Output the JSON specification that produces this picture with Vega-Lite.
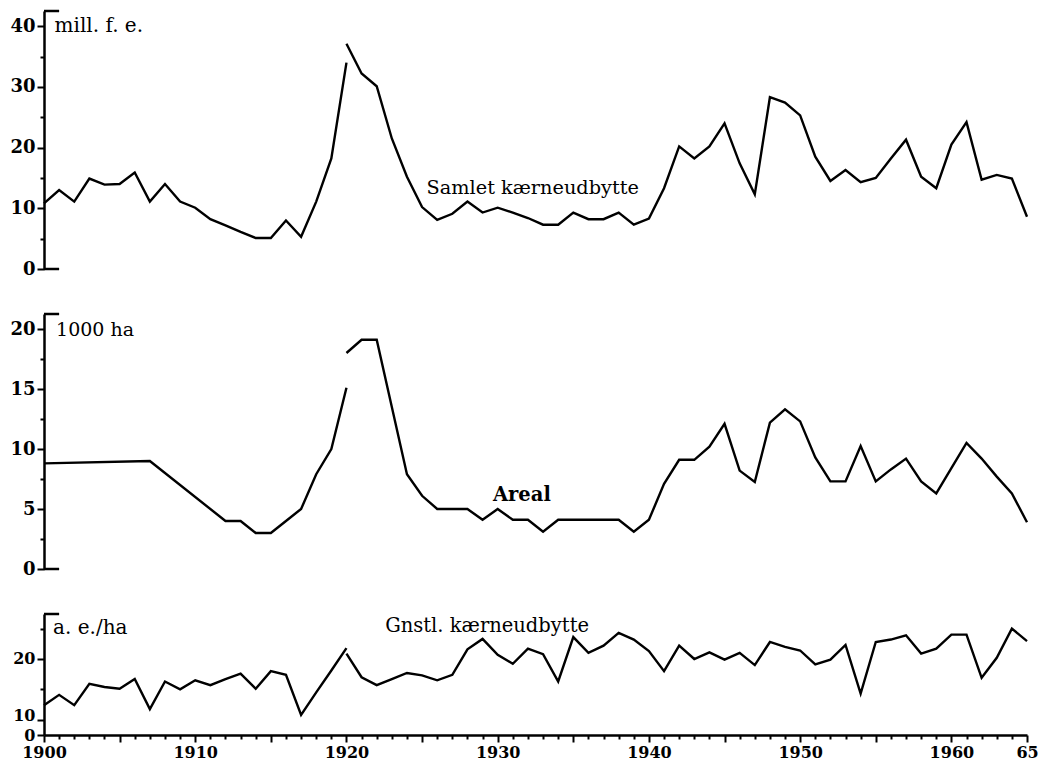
{
  "$schema": "https://vega.github.io/schema/vega-lite/v6.json",
  "background": "white",
  "padding": {"left": 5, "top": 9, "right": 5, "bottom": 5},
  "spacing": 45,
  "bounds": "flush",
  "datasets": {
    "samlet": [
      {"year": 1900, "value": 10.8, "seg": "a"}, {"year": 1901, "value": 13.0, "seg": "a"}, {"year": 1902, "value": 11.1, "seg": "a"},
      {"year": 1903, "value": 14.9, "seg": "a"}, {"year": 1904, "value": 13.9, "seg": "a"}, {"year": 1905, "value": 14.0, "seg": "a"},
      {"year": 1906, "value": 15.9, "seg": "a"}, {"year": 1907, "value": 11.1, "seg": "a"}, {"year": 1908, "value": 14.0, "seg": "a"},
      {"year": 1909, "value": 11.1, "seg": "a"}, {"year": 1910, "value": 10.1, "seg": "a"}, {"year": 1911, "value": 8.2, "seg": "a"},
      {"year": 1912, "value": 7.2, "seg": "a"}, {"year": 1913, "value": 6.1, "seg": "a"}, {"year": 1914, "value": 5.1, "seg": "a"},
      {"year": 1915, "value": 5.1, "seg": "a"}, {"year": 1916, "value": 8.0, "seg": "a"}, {"year": 1917, "value": 5.3, "seg": "a"},
      {"year": 1918, "value": 11.1, "seg": "a"}, {"year": 1919, "value": 18.2, "seg": "a"}, {"year": 1920, "value": 34.0, "seg": "a"},
      {"year": 1920, "value": 37.1, "seg": "b"}, {"year": 1921, "value": 32.2, "seg": "b"}, {"year": 1922, "value": 30.1, "seg": "b"},
      {"year": 1923, "value": 21.5, "seg": "b"}, {"year": 1924, "value": 15.2, "seg": "b"}, {"year": 1925, "value": 10.2, "seg": "b"},
      {"year": 1926, "value": 8.1, "seg": "b"}, {"year": 1927, "value": 9.1, "seg": "b"}, {"year": 1928, "value": 11.1, "seg": "b"},
      {"year": 1929, "value": 9.3, "seg": "b"}, {"year": 1930, "value": 10.1, "seg": "b"}, {"year": 1931, "value": 9.3, "seg": "b"},
      {"year": 1932, "value": 8.4, "seg": "b"}, {"year": 1933, "value": 7.3, "seg": "b"}, {"year": 1934, "value": 7.3, "seg": "b"},
      {"year": 1935, "value": 9.3, "seg": "b"}, {"year": 1936, "value": 8.2, "seg": "b"}, {"year": 1937, "value": 8.2, "seg": "b"},
      {"year": 1938, "value": 9.3, "seg": "b"}, {"year": 1939, "value": 7.3, "seg": "b"}, {"year": 1940, "value": 8.3, "seg": "b"},
      {"year": 1941, "value": 13.3, "seg": "b"}, {"year": 1942, "value": 20.2, "seg": "b"}, {"year": 1943, "value": 18.2, "seg": "b"},
      {"year": 1944, "value": 20.2, "seg": "b"}, {"year": 1945, "value": 24.0, "seg": "b"}, {"year": 1946, "value": 17.4, "seg": "b"},
      {"year": 1947, "value": 12.3, "seg": "b"}, {"year": 1948, "value": 28.3, "seg": "b"}, {"year": 1949, "value": 27.4, "seg": "b"},
      {"year": 1950, "value": 25.3, "seg": "b"}, {"year": 1951, "value": 18.5, "seg": "b"}, {"year": 1952, "value": 14.5, "seg": "b"},
      {"year": 1953, "value": 16.3, "seg": "b"}, {"year": 1954, "value": 14.3, "seg": "b"}, {"year": 1955, "value": 15.0, "seg": "b"},
      {"year": 1956, "value": 18.2, "seg": "b"}, {"year": 1957, "value": 21.3, "seg": "b"}, {"year": 1958, "value": 15.2, "seg": "b"},
      {"year": 1959, "value": 13.3, "seg": "b"}, {"year": 1960, "value": 20.5, "seg": "b"}, {"year": 1961, "value": 24.2, "seg": "b"},
      {"year": 1962, "value": 14.7, "seg": "b"}, {"year": 1963, "value": 15.5, "seg": "b"}, {"year": 1964, "value": 14.9, "seg": "b"},
      {"year": 1965, "value": 8.6, "seg": "b"}
    ],
    "areal": [
      {"year": 1900, "value": 8.8, "seg": "a"}, {"year": 1907, "value": 9.0, "seg": "a"}, {"year": 1912, "value": 4.0, "seg": "a"},
      {"year": 1913, "value": 4.0, "seg": "a"}, {"year": 1914, "value": 3.0, "seg": "a"}, {"year": 1915, "value": 3.0, "seg": "a"},
      {"year": 1916, "value": 4.0, "seg": "a"}, {"year": 1917, "value": 5.0, "seg": "a"}, {"year": 1918, "value": 7.9, "seg": "a"},
      {"year": 1919, "value": 10.0, "seg": "a"}, {"year": 1920, "value": 15.1, "seg": "a"},
      {"year": 1920, "value": 18.0, "seg": "b"}, {"year": 1921, "value": 19.1, "seg": "b"}, {"year": 1922, "value": 19.1, "seg": "b"},
      {"year": 1923, "value": 13.5, "seg": "b"}, {"year": 1924, "value": 7.9, "seg": "b"}, {"year": 1925, "value": 6.1, "seg": "b"},
      {"year": 1926, "value": 5.0, "seg": "b"}, {"year": 1927, "value": 5.0, "seg": "b"}, {"year": 1928, "value": 5.0, "seg": "b"},
      {"year": 1929, "value": 4.1, "seg": "b"}, {"year": 1930, "value": 5.0, "seg": "b"}, {"year": 1931, "value": 4.1, "seg": "b"},
      {"year": 1932, "value": 4.1, "seg": "b"}, {"year": 1933, "value": 3.1, "seg": "b"}, {"year": 1934, "value": 4.1, "seg": "b"},
      {"year": 1935, "value": 4.1, "seg": "b"}, {"year": 1936, "value": 4.1, "seg": "b"}, {"year": 1937, "value": 4.1, "seg": "b"},
      {"year": 1938, "value": 4.1, "seg": "b"}, {"year": 1939, "value": 3.1, "seg": "b"}, {"year": 1940, "value": 4.1, "seg": "b"},
      {"year": 1941, "value": 7.1, "seg": "b"}, {"year": 1942, "value": 9.1, "seg": "b"}, {"year": 1943, "value": 9.1, "seg": "b"},
      {"year": 1944, "value": 10.2, "seg": "b"}, {"year": 1945, "value": 12.1, "seg": "b"}, {"year": 1946, "value": 8.2, "seg": "b"},
      {"year": 1947, "value": 7.25, "seg": "b"}, {"year": 1948, "value": 12.2, "seg": "b"}, {"year": 1949, "value": 13.3, "seg": "b"},
      {"year": 1950, "value": 12.3, "seg": "b"}, {"year": 1951, "value": 9.3, "seg": "b"}, {"year": 1952, "value": 7.3, "seg": "b"},
      {"year": 1953, "value": 7.3, "seg": "b"}, {"year": 1954, "value": 10.25, "seg": "b"}, {"year": 1955, "value": 7.3, "seg": "b"},
      {"year": 1956, "value": 8.3, "seg": "b"}, {"year": 1957, "value": 9.2, "seg": "b"}, {"year": 1958, "value": 7.3, "seg": "b"},
      {"year": 1959, "value": 6.3, "seg": "b"}, {"year": 1960, "value": 8.4, "seg": "b"}, {"year": 1961, "value": 10.5, "seg": "b"},
      {"year": 1962, "value": 9.2, "seg": "b"}, {"year": 1963, "value": 7.7, "seg": "b"}, {"year": 1964, "value": 6.3, "seg": "b"},
      {"year": 1965, "value": 3.9, "seg": "b"}
    ],
    "gnstl": [
      {"year": 1900, "value": 12.4, "seg": "a"}, {"year": 1901, "value": 14.1, "seg": "a"}, {"year": 1902, "value": 12.4, "seg": "a"},
      {"year": 1903, "value": 15.9, "seg": "a"}, {"year": 1904, "value": 15.4, "seg": "a"}, {"year": 1905, "value": 15.1, "seg": "a"},
      {"year": 1906, "value": 16.7, "seg": "a"}, {"year": 1907, "value": 11.75, "seg": "a"}, {"year": 1908, "value": 16.3, "seg": "a"},
      {"year": 1909, "value": 15.0, "seg": "a"}, {"year": 1910, "value": 16.5, "seg": "a"}, {"year": 1911, "value": 15.7, "seg": "a"},
      {"year": 1912, "value": 16.7, "seg": "a"}, {"year": 1913, "value": 17.6, "seg": "a"}, {"year": 1914, "value": 15.1, "seg": "a"},
      {"year": 1915, "value": 18.0, "seg": "a"}, {"year": 1916, "value": 17.4, "seg": "a"}, {"year": 1917, "value": 10.8, "seg": "a"},
      {"year": 1918, "value": 14.5, "seg": "a"}, {"year": 1919, "value": 18.1, "seg": "a"}, {"year": 1920, "value": 21.8, "seg": "a"},
      {"year": 1920, "value": 20.9, "seg": "b"}, {"year": 1921, "value": 17.0, "seg": "b"}, {"year": 1922, "value": 15.7, "seg": "b"},
      {"year": 1923, "value": 16.7, "seg": "b"}, {"year": 1924, "value": 17.7, "seg": "b"}, {"year": 1925, "value": 17.3, "seg": "b"},
      {"year": 1926, "value": 16.5, "seg": "b"}, {"year": 1927, "value": 17.4, "seg": "b"}, {"year": 1928, "value": 21.6, "seg": "b"},
      {"year": 1929, "value": 23.3, "seg": "b"}, {"year": 1930, "value": 20.7, "seg": "b"}, {"year": 1931, "value": 19.2, "seg": "b"},
      {"year": 1932, "value": 21.7, "seg": "b"}, {"year": 1933, "value": 20.8, "seg": "b"}, {"year": 1934, "value": 16.3, "seg": "b"},
      {"year": 1935, "value": 23.6, "seg": "b"}, {"year": 1936, "value": 21.0, "seg": "b"}, {"year": 1937, "value": 22.2, "seg": "b"},
      {"year": 1938, "value": 24.3, "seg": "b"}, {"year": 1939, "value": 23.2, "seg": "b"}, {"year": 1940, "value": 21.3, "seg": "b"},
      {"year": 1941, "value": 18.0, "seg": "b"}, {"year": 1942, "value": 22.2, "seg": "b"}, {"year": 1943, "value": 20.0, "seg": "b"},
      {"year": 1944, "value": 21.1, "seg": "b"}, {"year": 1945, "value": 19.9, "seg": "b"}, {"year": 1946, "value": 21.0, "seg": "b"},
      {"year": 1947, "value": 19.0, "seg": "b"}, {"year": 1948, "value": 22.8, "seg": "b"}, {"year": 1949, "value": 22.0, "seg": "b"},
      {"year": 1950, "value": 21.4, "seg": "b"}, {"year": 1951, "value": 19.1, "seg": "b"}, {"year": 1952, "value": 19.9, "seg": "b"},
      {"year": 1953, "value": 22.3, "seg": "b"}, {"year": 1954, "value": 14.3, "seg": "b"}, {"year": 1955, "value": 22.8, "seg": "b"},
      {"year": 1956, "value": 23.2, "seg": "b"}, {"year": 1957, "value": 23.9, "seg": "b"}, {"year": 1958, "value": 20.9, "seg": "b"},
      {"year": 1959, "value": 21.7, "seg": "b"}, {"year": 1960, "value": 24.0, "seg": "b"}, {"year": 1961, "value": 24.0, "seg": "b"},
      {"year": 1962, "value": 16.9, "seg": "b"}, {"year": 1963, "value": 20.2, "seg": "b"}, {"year": 1964, "value": 25.0, "seg": "b"},
      {"year": 1965, "value": 22.95, "seg": "b"}
    ]
  },
  "vconcat": [
    {
      "width": 983,
      "height": 258,
      "layer": [
        {
          "data": {"name": "samlet"},
          "mark": {"type": "line", "color": "black", "strokeWidth": 2.4},
          "encoding": {
            "x": {"field": "year", "type": "quantitative", "scale": {"domain": [1900, 1965], "nice": false, "zero": false}, "axis": null},
            "y": {"field": "value", "type": "quantitative", "scale": {"domain": [0, 42.5], "nice": false},
                  "axis": {"title": null, "tickCount": 200, "labelOverlap": false, "values": [0, 5, 10, 15, 20, 25, 30, 35, 40], "labelExpr": "datum.value % 10 === 0 ? '' + datum.value : ''",
                           "tickSize": {"condition": {"test": "datum.value % 10 === 0", "value": 7}, "value": 4}}},
            "detail": {"field": "seg"}
          }
        },
        {
          "data": {"values": [{}]},
          "mark": {"type": "rule", "color": "black", "strokeWidth": 2.5},
          "encoding": {"x": {"datum": 1900, "axis": null}, "x2": {"datum": 1901}, "y": {"datum": 0}}
        },
        {
          "data": {"values": [{}]},
          "mark": {"type": "rule", "color": "black", "strokeWidth": 2.5},
          "encoding": {"x": {"datum": 1900, "axis": null}, "x2": {"datum": 1901}, "y": {"datum": 42.5}}
        },
        {
          "data": {"values": [{}]},
          "mark": {"type": "text", "align": "left", "baseline": "middle", "fontSize": 20, "font": "DejaVu Serif", "color": "black"},
          "encoding": {"x": {"datum": 1900.7, "axis": null}, "y": {"datum": 40.1}, "text": {"value": "mill. f. e."}}
        },
        {
          "data": {"values": [{}]},
          "mark": {"type": "text", "align": "left", "baseline": "middle", "fontSize": 19.3, "font": "DejaVu Serif", "color": "black"},
          "encoding": {"x": {"datum": 1925.3, "axis": null}, "y": {"datum": 13.4}, "text": {"value": "Samlet kærneudbytte"}}
        }
      ]
    },
    {
      "width": 983,
      "height": 255,
      "layer": [
        {
          "data": {"name": "areal"},
          "mark": {"type": "line", "color": "black", "strokeWidth": 2.4},
          "encoding": {
            "x": {"field": "year", "type": "quantitative", "scale": {"domain": [1900, 1965], "nice": false, "zero": false}, "axis": null},
            "y": {"field": "value", "type": "quantitative", "scale": {"domain": [0, 21.25], "nice": false},
                  "axis": {"title": null, "tickCount": 200, "labelOverlap": false, "values": [0, 2.5, 5, 7.5, 10, 12.5, 15, 17.5, 20], "labelExpr": "datum.value % 5 === 0 ? '' + datum.value : ''",
                           "tickSize": {"condition": {"test": "datum.value % 5 === 0", "value": 7}, "value": 4}}},
            "detail": {"field": "seg"}
          }
        },
        {
          "data": {"values": [{}]},
          "mark": {"type": "rule", "color": "black", "strokeWidth": 2.5},
          "encoding": {"x": {"datum": 1900, "axis": null}, "x2": {"datum": 1901}, "y": {"datum": 0}}
        },
        {
          "data": {"values": [{}]},
          "mark": {"type": "rule", "color": "black", "strokeWidth": 2.5},
          "encoding": {"x": {"datum": 1900, "axis": null}, "x2": {"datum": 1901}, "y": {"datum": 21.25}}
        },
        {
          "data": {"values": [{}]},
          "mark": {"type": "text", "align": "left", "baseline": "middle", "fontSize": 19, "font": "DejaVu Serif", "color": "black"},
          "encoding": {"x": {"datum": 1900.8, "axis": null}, "y": {"datum": 19.9}, "text": {"value": "1000 ha"}}
        },
        {
          "data": {"values": [{}]},
          "mark": {"type": "text", "align": "center", "baseline": "middle", "fontSize": 19.5, "font": "DejaVu Serif", "fontWeight": "bold", "color": "black"},
          "encoding": {"x": {"datum": 1931.6, "axis": null}, "y": {"datum": 6.2}, "text": {"value": "Areal"}}
        }
      ]
    },
    {
      "width": 983,
      "height": 121,
      "layer": [
        {
          "data": {"name": "gnstl"},
          "mark": {"type": "line", "color": "black", "strokeWidth": 2.4},
          "encoding": {
            "x": {"field": "year", "type": "quantitative", "scale": {"domain": [1900, 1965], "nice": false, "zero": false},
                  "axis": {"title": null, "tickCount": 200, "labelFontSize": 16, "labelPadding": 2, "labelOverlap": false, "labelFlush": false,
                           "values": [1900,1901,1902,1903,1904,1905,1906,1907,1908,1909,1910,1911,1912,1913,1914,1915,1916,1917,1918,1919,1920,1921,1922,1923,1924,1925,1926,1927,1928,1929,1930,1931,1932,1933,1934,1935,1936,1937,1938,1939,1940,1941,1942,1943,1944,1945,1946,1947,1948,1949,1950,1951,1952,1953,1954,1955,1956,1957,1958,1959,1960,1961,1962,1963,1964,1965],
                           "labelExpr": "datum.value === 1965 ? '65' : (datum.value % 10 === 0 ? '' + datum.value : '')",
                           "tickSize": {"condition": {"test": "datum.value % 5 === 0", "value": 7}, "value": 4}}},
            "y": {"field": "value", "type": "quantitative", "scale": {"domain": [7.5, 27.4], "nice": false, "zero": false},
                  "axis": {"title": null, "tickCount": 200, "values": [7.5, 10, 15, 20, 25], "labelOverlap": false, "labelFontSize": 16,
                           "labelOffset": {"condition": {"test": "datum.value === 10", "value": -4}, "value": 0},
                           "labelExpr": "datum.value === 7.5 ? '0' : (datum.value % 10 === 0 ? '' + datum.value : '')",
                           "tickSize": {"condition": {"test": "datum.value === 15 || datum.value === 25", "value": 4}, "value": 7}}},
            "detail": {"field": "seg"}
          }
        },
        {
          "data": {"values": [{}]},
          "mark": {"type": "rule", "color": "black", "strokeWidth": 2.5},
          "encoding": {"x": {"datum": 1900}, "x2": {"datum": 1901}, "y": {"datum": 27.4}}
        },
        {
          "data": {"values": [{}]},
          "mark": {"type": "text", "align": "left", "baseline": "middle", "fontSize": 20, "font": "DejaVu Serif", "color": "black"},
          "encoding": {"x": {"datum": 1900.6}, "y": {"datum": 25.1}, "text": {"value": "a. e./ha"}}
        },
        {
          "data": {"values": [{}]},
          "mark": {"type": "text", "align": "center", "baseline": "middle", "fontSize": 19.5, "font": "DejaVu Serif", "color": "black"},
          "encoding": {"x": {"datum": 1929.3}, "y": {"datum": 25.5}, "text": {"value": "Gnstl. kærneudbytte"}}
        }
      ]
    }
  ],
  "config": {
    "view": {"stroke": null},
    "font": "DejaVu Serif",
    "axis": {
      "grid": false,
      "labelFont": "DejaVu Serif",
      "labelFontSize": 18,
      "labelFontWeight": "bold",
      "labelColor": "black",
      "domainColor": "black",
      "domainWidth": 2.5,
      "tickColor": "black",
      "tickWidth": 2,
      "labelPadding": 2,
      "labelOverlap": false,
      "labelFlush": false
    },
    "axisX": {"labelFlush": false, "labelOverlap": false},
    "axisY": {"minExtent": 39, "maxExtent": 39, "labelOverlap": false}
  }
}
